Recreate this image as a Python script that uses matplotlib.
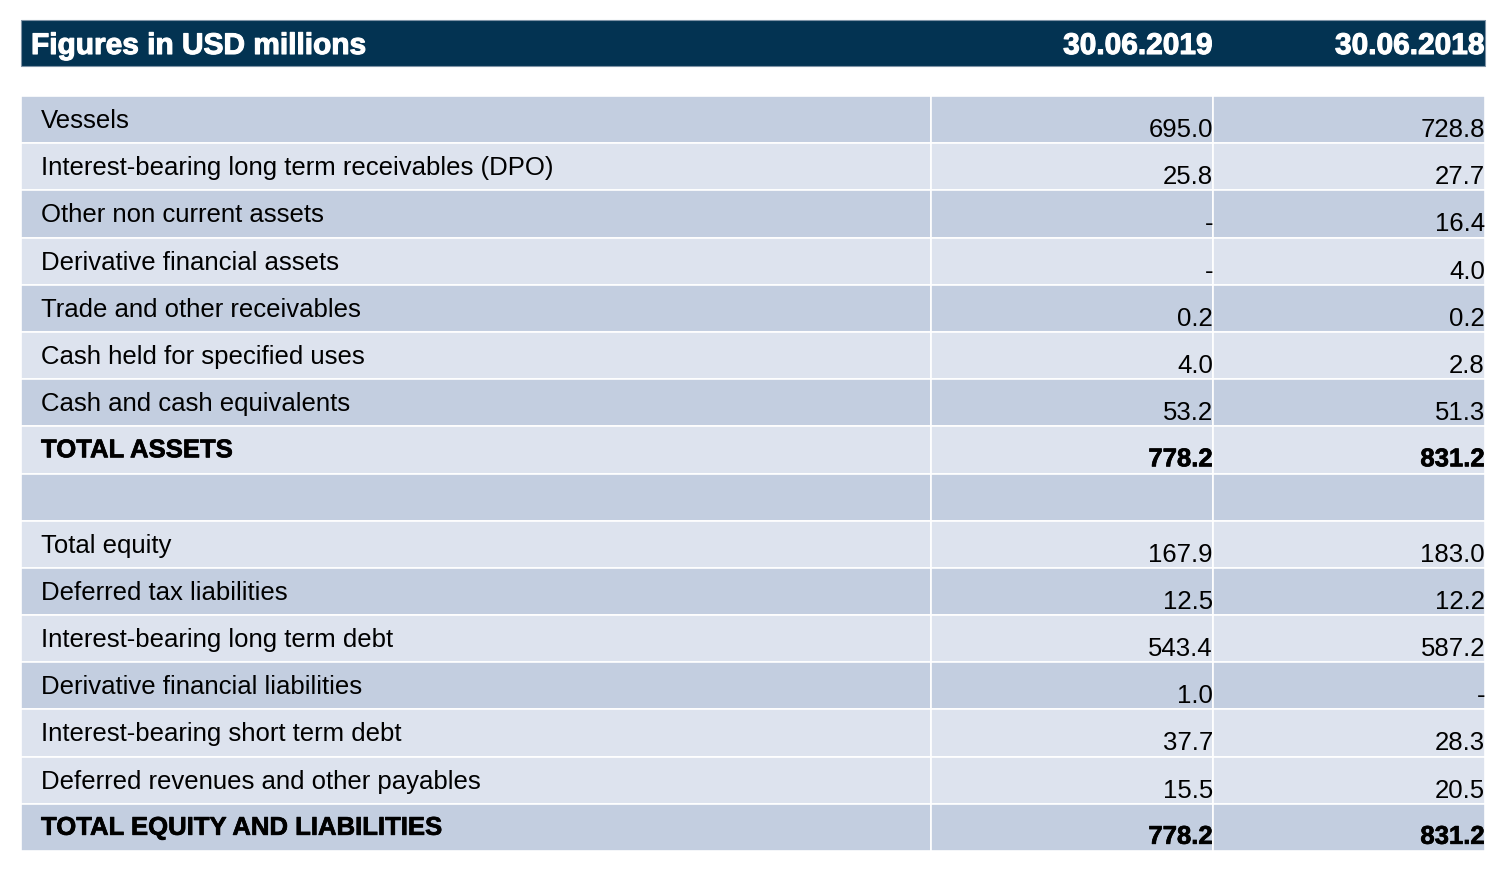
import matplotlib
matplotlib.use("Agg")
import matplotlib.pyplot as plt
from matplotlib.patches import Rectangle
import matplotlib.patheffects as pe

plt.rcParams['font.family'] = ['Liberation Sans', 'DejaVu Sans']

header_label = "Figures in USD millions"
col_headers = ["30.06.2019", "30.06.2018"]

row_labels = [
    "Vessels",
    "Interest-bearing long term receivables (DPO)",
    "Other non current assets",
    "Derivative financial assets",
    "Trade and other receivables",
    "Cash held for specified uses",
    "Cash and cash equivalents",
    "TOTAL ASSETS",
    "",
    "Total equity",
    "Deferred tax liabilities",
    "Interest-bearing long term debt",
    "Derivative financial liabilities",
    "Interest-bearing short term debt",
    "Deferred revenues and other payables",
    "TOTAL EQUITY AND LIABILITIES",
]
values_2019 = ["695.0", "25.8", "-", "-", "0.2", "4.0", "53.2", "778.2", "",
               "167.9", "12.5", "543.4", "1.0", "37.7", "15.5", "778.2"]
values_2018 = ["728.8", "27.7", "16.4", "4.0", "0.2", "2.8", "51.3", "831.2", "",
               "183.0", "12.2", "587.2", "-", "28.3", "20.5", "831.2"]
bold_rows = [False] * 7 + [True] + [False] * 7 + [True]
# row shading: 1 = darker band, 0 = lighter band
row_shade = [1, 0, 1, 0, 1, 0, 1, 0, 1, 0, 1, 0, 1, 0, 0, 1]

W, H = 1504, 878
fig = plt.figure(figsize=(W / 100, H / 100), dpi=100)
ax = fig.add_axes([0, 0, 1, 1])
ax.set_xlim(0, W)
ax.set_ylim(H, 0)
ax.axis('off')

navy = "#033352"
dark = "#c3cee0"
light = "#dde3ee"

left, right = 21, 1485
col_x = [left, 931, 1213, right]

# header
ax.add_patch(Rectangle((left, 21), right - left, 46, facecolor=navy,
                       edgecolor="#7f93a6", lw=0.8))
hdr_fx = [pe.withStroke(linewidth=0.8, foreground="white")]
ax.text(31, 55, header_label, color="white", fontsize=21.5, fontweight="bold",
        va="baseline", ha="left", path_effects=hdr_fx)
for i, h in enumerate(col_headers):
    ax.text(col_x[i + 2], 55, h, color="white", fontsize=21.5, fontweight="bold",
            va="baseline", ha="right", path_effects=hdr_fx)

top = 97
row_h = (852 - 97) / len(row_labels)
bold_fx = [pe.withStroke(linewidth=0.5, foreground="black")]
for i, lab in enumerate(row_labels):
    y0 = top + i * row_h
    color = dark if row_shade[i] else light
    for c in range(3):
        ax.add_patch(Rectangle((col_x[c], y0), col_x[c + 1] - col_x[c], row_h,
                               facecolor=color, edgecolor="white", lw=1.2))
    fw = "bold" if bold_rows[i] else "normal"
    fx = bold_fx if bold_rows[i] else None
    ax.text(41, y0 + 31, lab, fontsize=18.5, fontweight=fw,
            va="baseline", ha="left", color="black", path_effects=fx)
    for c, vals in enumerate([values_2019, values_2018]):
        ax.text(col_x[c + 2], y0 + 40, vals[i], fontsize=18.5,
                fontweight=fw, va="baseline", ha="right", color="black",
                path_effects=fx)

fig.savefig("out.png", dpi=100)
